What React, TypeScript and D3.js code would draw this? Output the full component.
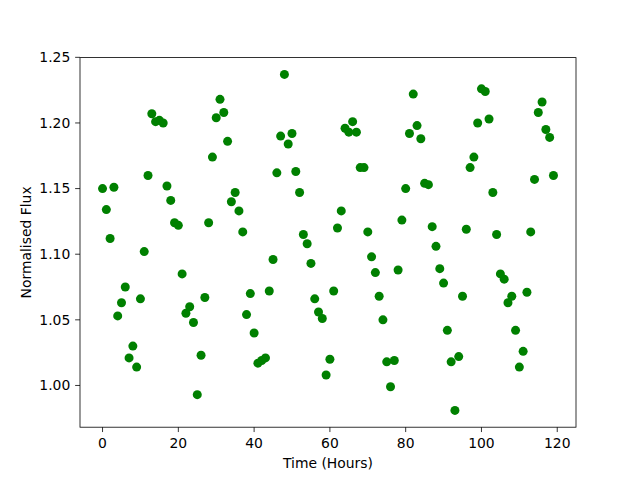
import React from "react";
import * as d3 from "d3";

const times: number[] = d3.range(0, 120);
const flux: number[] = [
  1.150, 1.134, 1.112, 1.151, 1.053, 1.063, 1.075, 1.021, 1.030, 1.014,
  1.066, 1.102, 1.160, 1.207, 1.201, 1.202, 1.200, 1.152, 1.141, 1.124,
  1.122, 1.085, 1.055, 1.060, 1.048, 0.993, 1.023, 1.067, 1.124, 1.174,
  1.204, 1.218, 1.208, 1.186, 1.140, 1.147, 1.133, 1.117, 1.054, 1.070,
  1.040, 1.017, 1.019, 1.021, 1.072, 1.096, 1.162, 1.190, 1.237, 1.184,
  1.192, 1.163, 1.147, 1.115, 1.108, 1.093, 1.066, 1.056, 1.051, 1.008,
  1.020, 1.072, 1.120, 1.133, 1.196, 1.193, 1.201, 1.193, 1.166, 1.166,
  1.117, 1.098, 1.086, 1.068, 1.050, 1.018, 0.999, 1.019, 1.088, 1.126,
  1.150, 1.192, 1.222, 1.198, 1.188, 1.154, 1.153, 1.121, 1.106, 1.089,
  1.078, 1.042, 1.018, 0.981, 1.022, 1.068, 1.119, 1.166, 1.174, 1.200,
  1.226, 1.224, 1.203, 1.147, 1.115, 1.085, 1.081, 1.063, 1.068, 1.042,
  1.014, 1.026, 1.071, 1.117, 1.157, 1.208, 1.216, 1.195, 1.189, 1.160,
];
const xTicks: number[] = [0, 20, 40, 60, 80, 100, 120];
const yTicks: number[] = [1.0, 1.05, 1.1, 1.15, 1.2, 1.25];
const xLabel = "Time (Hours)";
const yLabel = "Normalised Flux";

export default function App() {
  const W = 640, H = 480;
  const left = 80, right = 576, top = 57.6, bottom = 427.2;
  const xMin = d3.min(times)!, xMax = d3.max(times)!;
  const xPad = (xMax - xMin) * 0.05;
  const yMin = d3.min(flux)!, yMax = d3.max(flux)!;
  const yPad = (yMax - yMin) * 0.05;
  const x = d3.scaleLinear().domain([xMin - xPad, xMax + xPad]).range([left, right]);
  const y = d3.scaleLinear().domain([yMin - yPad, yMax + yPad]).range([bottom, top]);
  const font = "'DejaVu Sans', sans-serif";
  const fs = 13.9;
  const tl = 4.86;
  return (
    <svg width={W} height={H} style={{ position: "absolute", left: 0, top: 0, background: "#fff" }} fontFamily={font}>
      <rect x={0} y={0} width={W} height={H} fill="#fff" />
      {times.map((t, i) => (
        <circle key={i} cx={x(t)} cy={y(flux[i])} r={4.5} fill="#008000" />
      ))}
      <rect x={left} y={top} width={right - left} height={bottom - top} fill="none" stroke="#000" strokeWidth={0.8} />
      {xTicks.map((t) => (
        <g key={t}>
          <line x1={x(t)} x2={x(t)} y1={bottom} y2={bottom + tl} stroke="#000" strokeWidth={0.8} />
          <text x={x(t)} y={bottom + tl + 4.86 + 11} textAnchor="middle" fontSize={fs} fill="#000">{t}</text>
        </g>
      ))}
      {yTicks.map((t) => (
        <g key={t}>
          <line x1={left - tl} x2={left} y1={y(t)} y2={y(t)} stroke="#000" strokeWidth={0.8} />
          <text x={left - tl - 4.86} y={y(t)} dy="0.35em" textAnchor="end" fontSize={fs} fill="#000">{t.toFixed(2)}</text>
        </g>
      ))}
      <text x={(left + right) / 2} y={468} textAnchor="middle" fontSize={fs} fill="#000">{xLabel}</text>
      <text transform={`translate(31,${(top + bottom) / 2}) rotate(-90)`} textAnchor="middle" fontSize={fs} fill="#000">{yLabel}</text>
    </svg>
  );
}
